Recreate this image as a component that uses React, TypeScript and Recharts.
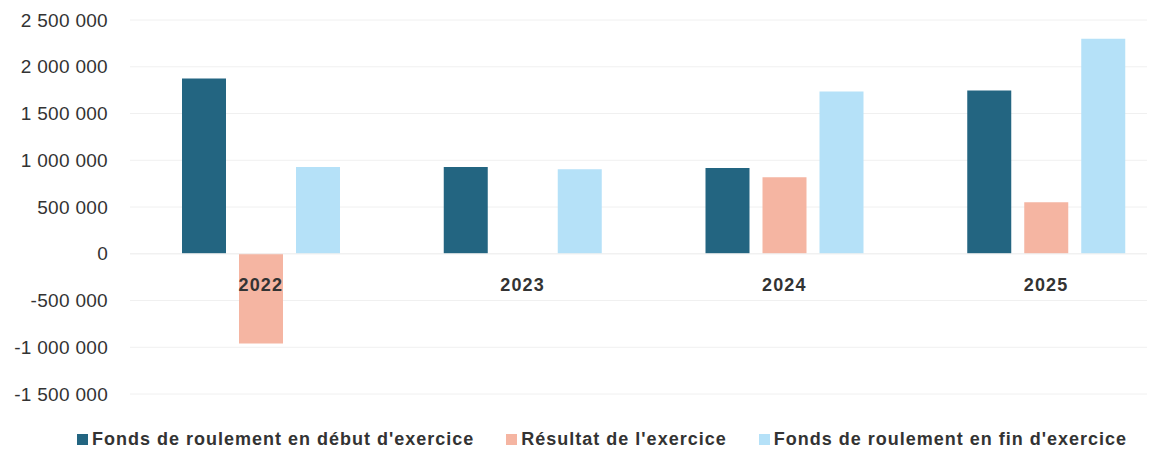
import { BarChart, Bar, XAxis, YAxis, CartesianGrid, Legend, ReferenceLine } from "recharts";

const years = ["2022", "2023", "2024", "2025"];
const debutExercice = [1875000, 927000, 916000, 1746000];
const resultat = [-960000, 0, 819000, 550000];
const finExercice = [927000, 905000, 1735000, 2300000];
const yTicks = [-1500000, -1000000, -500000, 0, 500000, 1000000, 1500000, 2000000, 2500000];

const SERIES = [
  { key: "debut", name: "Fonds de roulement en début d'exercice", color: "#236581" },
  { key: "resultat", name: "Résultat de l'exercice", color: "#f5b5a2" },
  { key: "fin", name: "Fonds de roulement en fin d'exercice", color: "#b5e1f8" },
];

const data = years.map((year, i) => ({
  year,
  debut: debutExercice[i],
  resultat: resultat[i],
  fin: finExercice[i],
}));

const FONT = "'Liberation Sans', Arial, sans-serif";

const fmt = (v: number) => {
  const s = Math.abs(v).toString().replace(/\B(?=(\d{3})+(?!\d))/g, " ");
  return v < 0 ? "-" + s : s;
};

// category names sit just under the zero line
const ZeroLabels = (props: any) => {
  const { viewBox } = props;
  if (!viewBox) return null;
  const step = viewBox.width / years.length;
  return (
    <g>
      {years.map((y, i) => (
        <text
          key={y}
          x={viewBox.x + step * (i + 0.5)}
          y={viewBox.y + 37}
          textAnchor="middle"
          fontFamily={FONT}
          fontWeight="bold"
          fontSize={18}
          letterSpacing={1.2}
          fill="#333"
        >
          {y}
        </text>
      ))}
    </g>
  );
};

const LegendContent = () => (
  <div style={{ display: "flex", justifyContent: "center", gap: 32, fontFamily: FONT }}>
    {SERIES.map((s) => (
      <div key={s.key} style={{ display: "flex", alignItems: "center", gap: 4 }}>
        <span style={{ width: 11, height: 11, background: s.color, display: "inline-block" }} />
        <span style={{ fontSize: 18, fontWeight: "bold", color: "#333", letterSpacing: 1 }}>{s.name}</span>
      </div>
    ))}
  </div>
);

export default function App() {
  return (
    <div style={{ width: 1147, overflow: "hidden" }}>
      <BarChart
        width={1200}
        height={446}
        data={data}
        margin={{ top: 12, right: 31, bottom: 4, left: 0 }}
        barSize={44}
        barGap={13}
      >
        <CartesianGrid vertical={false} stroke="#f0f0f0" />
        <XAxis dataKey="year" tick={false} axisLine={false} tickLine={false} height={35} />
        <YAxis
          width={122}
          domain={[-1500000, 2500000]}
          ticks={yTicks}
          tickFormatter={fmt}
          axisLine={false}
          tickLine={false}
          tickMargin={16}
          tick={{ fontFamily: FONT, fontSize: 19, fill: "#333", letterSpacing: 0.3 }}
        />
        <ReferenceLine y={0} stroke="#f0f0f0" label={<ZeroLabels />} />
        <Legend
          verticalAlign="bottom"
          content={<LegendContent />}
          wrapperStyle={{ left: 0, width: 1188 }}
        />
        {SERIES.map((s) => (
          <Bar key={s.key} dataKey={s.key} name={s.name} fill={s.color} isAnimationActive={false} />
        ))}
      </BarChart>
    </div>
  );
}
